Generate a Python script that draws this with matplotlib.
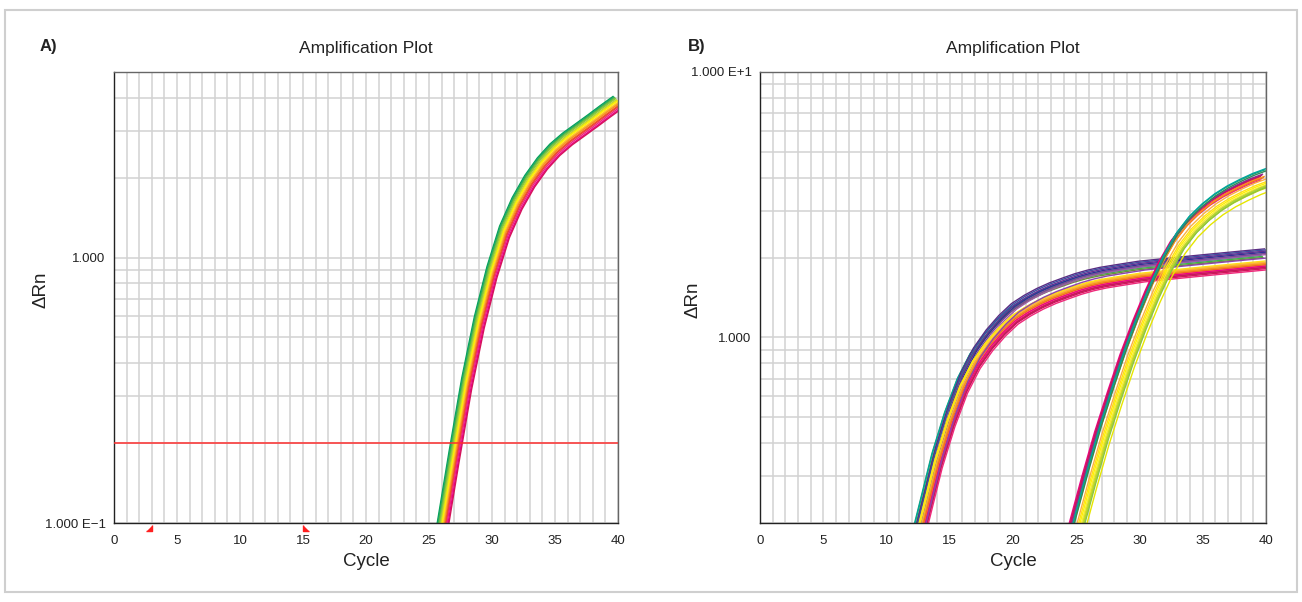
import matplotlib
matplotlib.use("Agg")
import matplotlib.pyplot as plt
import matplotlib.ticker as mticker
from matplotlib.patches import Rectangle
from matplotlib.transforms import blended_transform_factory

plt.rcParams['font.family'] = ['Liberation Sans Narrow', 'Liberation Sans', 'DejaVu Sans']

# ---------------- data ----------------
# Panel A: representative amplification curve (cycles 24..40)
A_cycles = list(range(24, 41))
A_base = [0.024, 0.047, 0.092, 0.178, 0.335, 0.570, 0.880, 1.250, 1.600,
          1.940, 2.260, 2.550, 2.800, 3.030, 3.280, 3.560, 3.850]
A_well_colors = ['#00a651', '#1b9e77', '#39b54a', '#6cbe45', '#8cc63f', '#b5d334',
                 '#d7df23', '#fff200', '#ffde17', '#fbb040', '#f7941d', '#f26522',
                 '#ef4136', '#ee2a7b', '#ec008c', '#d4145a']
A_well_shift = [-0.40, -0.35, -0.30, -0.25, -0.20, -0.15, -0.10, -0.05,
                0.00, 0.05, 0.10, 0.15, 0.20, 0.25, 0.32, 0.38]
A_well_scale = [1.050, 1.045, 1.040, 1.035, 1.030, 1.020, 1.015, 1.010,
                1.000, 0.995, 0.990, 0.980, 0.975, 0.965, 0.955, 0.950]
A_threshold = 0.2
A_baseline = [3, 15]

# Panel B, early group (cycles 10..40)
B1_cycles = list(range(10, 41))
B1_base = [0.060, 0.092, 0.145, 0.225, 0.350, 0.500, 0.670, 0.830, 0.970, 1.100,
           1.220, 1.310, 1.390, 1.460, 1.520, 1.580, 1.630, 1.670, 1.700, 1.730,
           1.760, 1.780, 1.800, 1.820, 1.840, 1.860, 1.880, 1.900, 1.920, 1.940, 1.960]
B1_well_colors = ['#1b9e77', '#00a79d', '#39b54a', '#6a8d3a', '#5b2c83', '#3f4fa0',
                  '#662d91', '#2e3192', '#7b4397', '#9e5aa8', '#fff200', '#f9ed32',
                  '#ffde17', '#d7df23', '#fbb040', '#f7941d', '#f26522', '#ff7f27',
                  '#ec008c', '#e91e63', '#d4145a', '#c2185b', '#ee2a7b', '#8e44ad']
B1_well_shift = [-0.42, -0.36, -0.30, -0.25, -0.12, -0.05, 0.05, 0.12, 0.20, 0.30,
                 -0.20, -0.15, -0.08, 0.00, 0.04, 0.08, 0.14, 0.18, 0.22, 0.26,
                 0.32, 0.36, 0.40, 0.44]
B1_well_scale = [1.04, 1.05, 1.03, 1.02, 1.10, 1.09, 1.08, 1.07, 1.06, 1.05,
                 0.98, 0.97, 0.99, 0.96, 0.98, 0.97, 0.96, 0.95, 0.95, 0.94,
                 0.93, 0.94, 0.92, 1.02]

# Panel B, late group (cycles 23..40)
B2_cycles = list(range(23, 41))
B2_base = [0.085, 0.130, 0.200, 0.300, 0.440, 0.620, 0.860, 1.150, 1.500,
           1.900, 2.300, 2.650, 2.950, 3.220, 3.450, 3.650, 3.840, 4.000]
B2_well_colors = ['#ec008c', '#e91e63', '#d4145a', '#ee2a7b', '#c2185b', '#92278f',
                  '#f15a24', '#f7941d', '#1b9e77', '#00a79d', '#2e8b57', '#fbb040',
                  '#ffde17', '#fff200', '#f9ed32', '#d7df23', '#c8d400', '#b5d334',
                  '#8cc63f', '#e6e600']
B2_well_shift = [-0.55, -0.50, -0.45, -0.40, -0.35, -0.28, -0.22, -0.15, -0.10, -0.05,
                 0.00, 0.05, 0.12, 0.20, 0.28, 0.35, 0.42, 0.48, 0.54, 0.60]
B2_well_scale = [1.00, 0.99, 1.01, 0.98, 1.02, 1.03, 1.00, 1.01, 1.07, 1.08,
                 1.06, 0.99, 0.97, 0.96, 0.95, 0.94, 0.93, 0.95, 0.94, 0.90]

x_ticks = [0, 5, 10, 15, 20, 25, 30, 35, 40]
A_ylim = (0.1, 5.0)
A_yticks = [0.1, 1.0]
A_ylabels = ['1.000 E\u22121', '1.000']
B_ylim = (0.2, 10.0)
B_yticks = [1.0, 10.0]
B_ylabels = ['1.000', '1.000 E+1']

# ---------------- figure ----------------
fig = plt.figure(figsize=(13.02, 6.02), dpi=100)
fig.patches.append(Rectangle((0.004, 0.016), 0.992, 0.968, transform=fig.transFigure,
                             fill=False, edgecolor='#cfcfcf', linewidth=1.5))

axA = fig.add_axes([114/1302, 1-523/602, 504/1302, 451/602])
axB = fig.add_axes([760/1302, 1-523/602, 506/1302, 451/602])

grid_c = '#d2d2d2'


def style(ax, ylim, yticks, ylabels):
    ax.set_yscale('log')
    ax.set_xlim(0, 40)
    ax.set_ylim(*ylim)
    ax.xaxis.set_major_locator(mticker.FixedLocator(x_ticks))
    ax.xaxis.set_minor_locator(mticker.MultipleLocator(1))
    ax.set_xticklabels([str(t) for t in x_ticks])
    ax.yaxis.set_major_locator(mticker.FixedLocator(yticks))
    ax.yaxis.set_major_formatter(mticker.FixedFormatter(ylabels))
    ax.yaxis.set_minor_locator(mticker.LogLocator(base=10, subs=range(2, 10), numticks=20))
    ax.yaxis.set_minor_formatter(mticker.NullFormatter())
    ax.tick_params(which='both', length=0)
    ax.tick_params(axis='x', pad=9, labelsize=9.5, colors='#222222')
    ax.tick_params(axis='y', pad=6, labelsize=9.5, colors='#222222')
    ax.grid(True, which='both', color=grid_c, linewidth=1.1)
    ax.set_axisbelow(True)
    for s in ['left', 'bottom']:
        ax.spines[s].set_color('#222222')
        ax.spines[s].set_linewidth(1.0)
    for s in ['top', 'right']:
        ax.spines[s].set_color('#666666')
        ax.spines[s].set_linewidth(1.0)
    ax.set_xlabel('Cycle', fontsize=13.5, labelpad=4, color='#222222')
    ax.set_ylabel('\u0394Rn', fontsize=13.5, color='#222222')
    ax.set_title('Amplification Plot', fontsize=12.5, pad=13.5, color='#222222')


def draw_group(ax, cycles, base, colors, shifts, scales):
    for c, sh, sc in zip(colors, shifts, scales):
        ax.plot([x + sh for x in cycles], [v * sc for v in base], color=c,
                linewidth=1.0, solid_joinstyle='round')


style(axA, A_ylim, A_yticks, A_ylabels)
style(axB, B_ylim, B_yticks, B_ylabels)
axA.yaxis.set_label_coords((50 - 114) / 504, (523 - 290) / 451)
axB.yaxis.set_label_coords((701 - 760) / 506, (523 - 300) / 451)

draw_group(axA, A_cycles, A_base, A_well_colors, A_well_shift, A_well_scale)
axA.axhline(A_threshold, color='#ff3030', linewidth=1.1, zorder=3)

draw_group(axB, B1_cycles, B1_base, B1_well_colors, B1_well_shift, B1_well_scale)
draw_group(axB, B2_cycles, B2_base, B2_well_colors, B2_well_shift, B2_well_scale)

# baseline markers
trans = blended_transform_factory(axA.transData, axA.transAxes)
axA.plot([A_baseline[0]], [-0.004], marker=[(0, 0), (0, -1), (-1, -1)], markersize=8,
         color='#ff2020', linestyle='none', transform=trans, clip_on=False)
axA.plot([A_baseline[1]], [-0.004], marker=[(0, 0), (0, -1), (1, -1)], markersize=8,
         color='#ff2020', linestyle='none', transform=trans, clip_on=False)

fig.text(40/1302, 1-47/602, 'A)', fontsize=12, fontweight='bold', ha='left', va='center',
         color='#222222')
fig.text(688/1302, 1-47/602, 'B)', fontsize=12, fontweight='bold', ha='left', va='center',
         color='#222222')

fig.savefig('out.png', dpi=100)
